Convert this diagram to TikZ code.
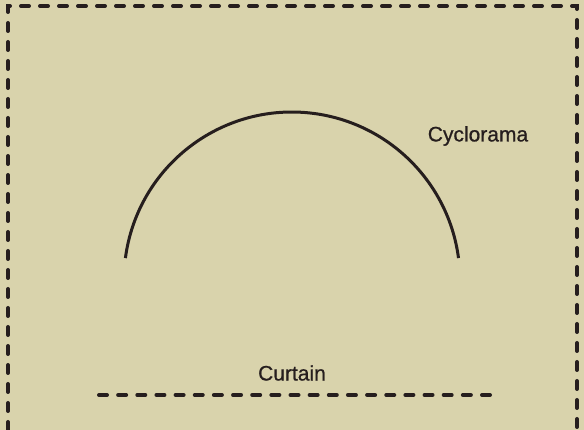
\documentclass[tikz,border=0pt]{standalone}
\usepackage{fontspec}
\setmainfont{Liberation Sans}
\newfontfamily\stagefont[FakeBold=0.8]{Liberation Sans}
\definecolor{paper}{RGB}{217,211,172}
\definecolor{ink}{RGB}{38,30,30}
\tikzset{
  outline/.style={ink,line width=4pt,line cap=round,dash pattern=on 8pt off 11pt},
  curtainline/.style={ink,line width=4pt,line cap=round,dash pattern=on 8pt off 11.15pt},
  nametag/.style={font=\stagefont\fontsize{21}{24}\selectfont,text=ink,inner sep=0pt}
}
\begin{document}
\begin{tikzpicture}[x=1pt,y=1pt]
\fill[paper] (0,0) rectangle (584,430);
\useasboundingbox (0,0) rectangle (584,430);
% stage outline (open at the front)
\draw[outline] (8,0) -- (8,424) -- (577,424) -- (577,0);
% cyclorama
\draw[ink,line width=3pt] (125.4,171.9) arc[start angle=172.5,end angle=7.5,radius=168];
\node[nametag] (cyc) at (478,294) {Cyclorama};
% curtain
\node[nametag] (cur) at (292,57) {Curtain};
\coordinate (cl) at (99,35);
\coordinate (cr) at (490,35);
\draw[curtainline] (cl) -- (cr);
\end{tikzpicture}
\end{document}
